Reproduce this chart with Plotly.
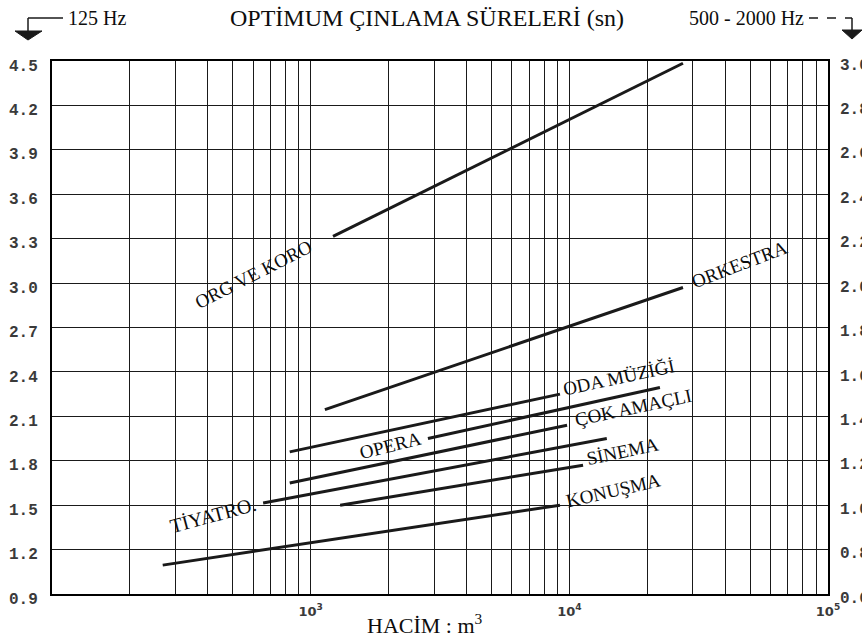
import plotly.graph_objects as go

# ---------------- data ----------------
rooms = ["ORG VE KORO", "ORKESTRA", "ODA MÜZİĞİ", "OPERA", "ÇOK AMAÇLI", "TİYATRO", "SİNEMA", "KONUŞMA"]
room_labels = ["ORG VE KORO", "ORKESTRA", "ODA MÜZİĞİ", "OPERA", "ÇOK AMAÇLI", "TİYATRO.", "SİNEMA", "KONUŞMA"]
vol_start = [1220, 1135, 830, 2840, 830, 655, 1300, 268]        # m3
vol_end = [27500, 27500, 9200, 22400, 9800, 13960, 11300, 9200]  # m3
rt_start = [2.21, 1.43, 1.24, 1.30, 1.10, 1.01, 1.00, 0.73]      # s (500-2000 Hz)
rt_end = [2.99, 1.98, 1.50, 1.53, 1.36, 1.30, 1.18, 1.00]        # s (500-2000 Hz)

left_ticks = [0.9, 1.2, 1.5, 1.8, 2.1, 2.4, 2.7, 3.0, 3.3, 3.6, 3.9, 4.2, 4.5]   # 125 Hz
right_ticks = [0.6, 0.8, 1.0, 1.2, 1.4, 1.6, 1.8, 2.0, 2.2, 2.4, 2.6, 2.8, 3.0]  # 500-2000 Hz
x_grid = [m * 10 ** e for e in (2, 3, 4) for m in range(1, 10)] + [100000]
x_tick_labels = {1000: "10<sup>3</sup>", 10000: "10<sup>4</sup>", 100000: "10<sup>5</sup>"}

title_text = "OPTİMUM ÇINLAMA SÜRELERİ (sn)"
left_freq = "125 Hz"
right_freq = "500 - 2000 Hz"
x_title = "HACİM : m<sup>3</sup>"

# ---------------- layout geometry (pixels) ----------------
W, H = 862, 638
L, R, T, B = 52, 828, 61, 594


def px(x):
    return (x - L) / (R - L)


def py(y):
    return (B - y) / (B - T)


INK = "#1a1a1a"
TXT = "#0d0d0d"
SERIF = "Liberation Serif, Times New Roman, serif"
MONO = "Liberation Mono, DejaVu Sans Mono, monospace"

fig = go.Figure()

# invisible trace to anchor the left (125 Hz) axis
fig.add_trace(go.Scatter(x=[x_grid[0], x_grid[-1]], y=[left_ticks[0], left_ticks[-1]],
                         mode="lines", line=dict(width=0), opacity=0,
                         hoverinfo="skip", showlegend=False, yaxis="y"))

for name, v0, v1, t0, t1 in zip(rooms, vol_start, vol_end, rt_start, rt_end):
    fig.add_trace(go.Scatter(x=[v0, v1], y=[t0, t1], mode="lines", name=name,
                             line=dict(color=INK, width=3), yaxis="y2",
                             showlegend=False))

# rotated room labels
label_pos = [(253, 274, -27), (739, 264, -21), (618, 377, -12), (390, 445, -14),
             (633, 408, -12), (213, 515, -15), (622, 451, -12), (613, 490, -13)]
label_size = [19, 19, 19, 19, 19, 20, 19, 19]
annotations = []
for text, (lx, ly, ang), fs in zip(room_labels, label_pos, label_size):
    annotations.append(dict(text=text, xref="paper", yref="paper", x=px(lx), y=py(ly),
                            xanchor="center", yanchor="middle", textangle=ang,
                            showarrow=False, font=dict(family=SERIF, size=fs, color=TXT)))

annotations += [
    dict(text=title_text, xref="paper", yref="paper", x=px(427), y=py(18),
         xanchor="center", yanchor="middle", showarrow=False,
         font=dict(family=SERIF, size=24, color=TXT)),
    dict(text=left_freq, xref="paper", yref="paper", x=px(66), y=py(18),
         xanchor="left", yanchor="middle", showarrow=False,
         font=dict(family=SERIF, size=20, color=TXT)),
    dict(text=right_freq, xref="paper", yref="paper", x=px(806), y=py(18),
         xanchor="right", yanchor="middle", showarrow=False,
         font=dict(family=SERIF, size=20, color=TXT)),
    dict(text=x_title, xref="paper", yref="paper", x=px(425), y=py(624),
         xanchor="center", yanchor="middle", showarrow=False,
         font=dict(family=SERIF, size=22, color=TXT)),
]

shapes = [
    # left 125 Hz bracket arrow
    dict(type="line", xref="paper", yref="paper", x0=px(28), y0=py(18), x1=px(63), y1=py(18),
         line=dict(color=INK, width=1.5)),
    dict(type="line", xref="paper", yref="paper", x0=px(28), y0=py(18), x1=px(28), y1=py(32),
         line=dict(color=INK, width=1.5)),
    dict(type="path", xref="paper", yref="paper",
         path=f"M {px(15)},{py(31)} L {px(42)},{py(31)} L {px(28)},{py(40)} Z",
         fillcolor=INK, line=dict(color=INK, width=1)),
    # right 500-2000 Hz bracket arrow
    dict(type="line", xref="paper", yref="paper", x0=px(809), y0=py(18), x1=px(852), y1=py(18),
         line=dict(color=INK, width=1.5, dash="dash")),
    dict(type="line", xref="paper", yref="paper", x0=px(852), y0=py(18), x1=px(852), y1=py(31),
         line=dict(color=INK, width=1.5)),
    dict(type="path", xref="paper", yref="paper",
         path=f"M {px(842)},{py(30)} L {px(862)},{py(30)} L {px(852)},{py(39)} Z",
         fillcolor=INK, line=dict(color=INK, width=1)),
]

fig.update_layout(
    width=W, height=H,
    margin=dict(l=L, r=W - R, t=T, b=H - B, autoexpand=False),
    paper_bgcolor="white", plot_bgcolor="white",
    showlegend=False,
    annotations=annotations,
    shapes=shapes,
    xaxis=dict(type="log", range=[2, 5], tickmode="array", tickvals=x_grid,
               ticktext=[x_tick_labels.get(v, "") for v in x_grid],
               showgrid=True, gridcolor=INK, gridwidth=1.3,
               showline=True, mirror=True, linecolor="#000", linewidth=2,
               ticks="", ticklabelstandoff=4, zeroline=False,
               tickfont=dict(family="DejaVu Sans, sans-serif", size=13, color="#3a3a3a", weight="bold")),
    yaxis=dict(range=[left_ticks[0], left_ticks[-1]], tickvals=left_ticks,
               ticktext=[f"{v:.1f}" for v in left_ticks],
               showgrid=True, gridcolor=INK, gridwidth=1.4,
               showline=True, mirror=True, linecolor="#000", linewidth=2,
               ticks="", ticklabelstandoff=9, ticklabelshift=4, zeroline=False,
               tickfont=dict(family=MONO, size=16, color="#3a3a3a", weight="bold")),
    yaxis2=dict(range=[right_ticks[0], right_ticks[-1]], tickvals=right_ticks,
                ticktext=[f"{v:.1f}" for v in right_ticks],
                overlaying="y", side="right", showgrid=False, zeroline=False,
                ticks="", ticklabelstandoff=11, ticklabelshift=3,
                tickfont=dict(family=MONO, size=16, color="#3a3a3a", weight="bold")),
)

fig.write_html("out.html", config={"displayModeBar": False},
               post_script="document.body.style.margin='0px';")
